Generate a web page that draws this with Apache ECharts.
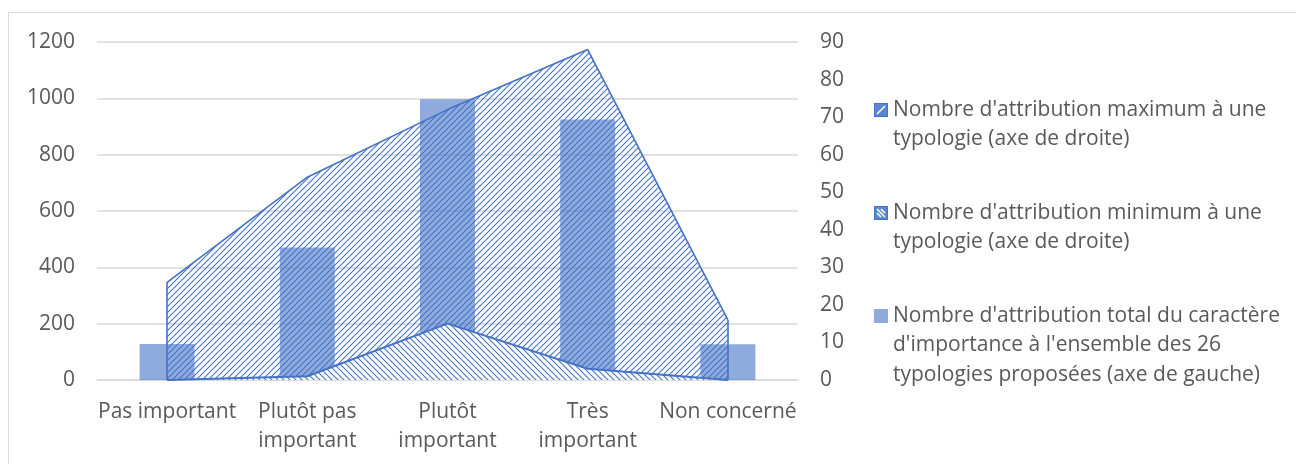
<!DOCTYPE html>
<html>
<head>
<meta charset="utf-8">
<script src="https://cdn.jsdelivr.net/npm/echarts@6/dist/echarts.min.js"></script>
<style>
  body { margin: 0; background: #fff; }
  #frame { position: absolute; left: 8px; top: 12px; width: 1300px; height: 470px; border: 1px solid #d9d9d9; box-sizing: border-box; }
  #main { position: absolute; left: 0; top: 0; width: 1296px; height: 464px; }
</style>
</head>
<body>
<div id="frame"></div>
<div id="main"></div>
<script>
// catégories (axe x)
var categories = ['Pas important', 'Plutôt pas\nimportant', 'Plutôt\nimportant', 'Très\nimportant', 'Non concerné'];
// axe de gauche
var totalValues = [128, 470, 997, 925, 127];
// axe de droite
var maxValues = [26, 54, 72, 88, 16];
var minValues = [0, 1, 15, 3, 0];

var nameMax = "Nombre d'attribution maximum à une\ntypologie (axe de droite)";
var nameMin = "Nombre d'attribution minimum à une\ntypologie (axe de droite)";
var nameTotal = "Nombre d'attribution total du caractère\nd'importance à l'ensemble des 26\ntypologies proposées (axe de gauche)";

var blue = '#4472C4';
var textColor = '#595959';
var font = '"Open Sans", sans-serif';
var fs = 21;
var L = 29.5;

// motif hachuré (sens '/' ou '\')
function hatch(up, bg) {
  var s = 6;
  var c = document.createElement('canvas');
  c.width = s; c.height = s;
  var ctx = c.getContext('2d');
  if (bg) { ctx.fillStyle = bg; ctx.fillRect(0, 0, s, s); }
  ctx.strokeStyle = blue;
  ctx.lineWidth = 1.1;
  ctx.beginPath();
  if (up) {
    ctx.moveTo(0, s); ctx.lineTo(s, 0);
    ctx.moveTo(-1, 1); ctx.lineTo(1, -1);
    ctx.moveTo(s - 1, s + 1); ctx.lineTo(s + 1, s - 1);
  } else {
    ctx.moveTo(0, 0); ctx.lineTo(s, s);
    ctx.moveTo(-1, s - 1); ctx.lineTo(1, s + 1);
    ctx.moveTo(s - 1, -1); ctx.lineTo(s + 1, 1);
  }
  ctx.stroke();
  return { image: c, repeat: 'repeat' };
}

// icône de légende : carré de 14px en haut d'une bande haute de h px
// (le texte sur plusieurs lignes est centré sur l'icône)
function legendIcon(kind, h) {
  var c = document.createElement('canvas');
  c.width = 14; c.height = h;
  var ctx = c.getContext('2d');
  var y = Math.round(L / 2 - 7);
  if (kind === 'bar') {
    // la légende reprend l'opacité 0.6 de la série -> #8faadc à l'écran
    ctx.fillStyle = blue;
    ctx.fillRect(0, y, 14, 14);
  } else {
    ctx.fillStyle = '#5b86d0';
    ctx.fillRect(0, y, 14, 14);
    ctx.strokeStyle = '#ffffff';
    ctx.lineWidth = 1.6;
    ctx.beginPath();
    if (kind === 'up') { ctx.moveTo(3, y + 11); ctx.lineTo(11, y + 3); }
    else { ctx.moveTo(3, y + 3); ctx.lineTo(11, y + 11); ctx.moveTo(3, y + 7); ctx.lineTo(7, y + 11); ctx.moveTo(7, y + 3); ctx.lineTo(11, y + 7); }
    ctx.stroke();
    ctx.strokeStyle = blue;
    ctx.lineWidth = 1;
    ctx.strokeRect(0.5, y + 0.5, 13, 13);
  }
  return 'image://' + c.toDataURL();
}

function legendBlock(name, kind, firstLineY, lines) {
  var h = Math.round(lines * L);
  return {
    data: [{ name: name, icon: legendIcon(kind, h) }],
    left: 874,
    top: Math.round(firstLineY - L / 2),
    padding: 0,
    itemWidth: 14,
    itemHeight: h,
    selectedMode: false,
    textStyle: { color: textColor, fontFamily: font, fontSize: fs, lineHeight: L }
  };
}

var myChart = echarts.init(document.getElementById('main'));
myChart.setOption({
  animation: false,
  grid: { left: 97, right: 498, top: 42, bottom: 84 },
  legend: [
    legendBlock(nameMax, 'up', 110, 2),
    legendBlock(nameMin, 'down', 213, 2),
    legendBlock(nameTotal, 'bar', 316, 3)
  ],
  xAxis: {
    type: 'category',
    data: categories,
    axisLine: { lineStyle: { color: '#d9d9d9', width: 1.5 } },
    axisTick: { show: false },
    axisLabel: { color: textColor, fontFamily: font, fontSize: fs, lineHeight: L, margin: 17, interval: 0 }
  },
  yAxis: [
    {
      type: 'value', min: 0, max: 1200, interval: 200,
      axisLine: { show: false }, axisTick: { show: false },
      splitLine: { lineStyle: { color: '#d9d9d9', width: 1.5 } },
      axisLabel: { color: textColor, fontFamily: font, fontSize: fs, margin: 22, formatter: function (v) { return String(v); } }
    },
    {
      type: 'value', min: 0, max: 90, interval: 10,
      axisLine: { show: false }, axisTick: { show: false },
      splitLine: { show: false },
      axisLabel: { color: textColor, fontFamily: font, fontSize: fs, margin: 22 }
    }
  ],
  series: [
    {
      name: nameMax,
      type: 'line',
      yAxisIndex: 1,
      data: maxValues,
      symbol: 'none',
      lineStyle: { color: blue, width: 1.6 },
      itemStyle: { color: blue },
      areaStyle: { color: hatch(true, null), opacity: 1 },
      markLine: {
        silent: true,
        symbol: 'none',
        label: { show: false },
        lineStyle: { color: blue, width: 1.6, type: 'solid' },
        data: [
          [{ coord: [0, 0] }, { coord: [0, maxValues[0]] }],
          [{ coord: [4, 0] }, { coord: [4, maxValues[4]] }]
        ]
      }
    },
    {
      name: nameMin,
      type: 'line',
      yAxisIndex: 1,
      data: minValues,
      symbol: 'none',
      lineStyle: { color: blue, width: 2 },
      itemStyle: { color: blue },
      areaStyle: { color: hatch(false, '#ffffff'), opacity: 1 }
    },
    {
      name: nameTotal,
      type: 'bar',
      yAxisIndex: 0,
      data: totalValues,
      barWidth: 55,
      itemStyle: { color: blue, opacity: 0.6 }
    }
  ]
});
</script>
</body>
</html>
